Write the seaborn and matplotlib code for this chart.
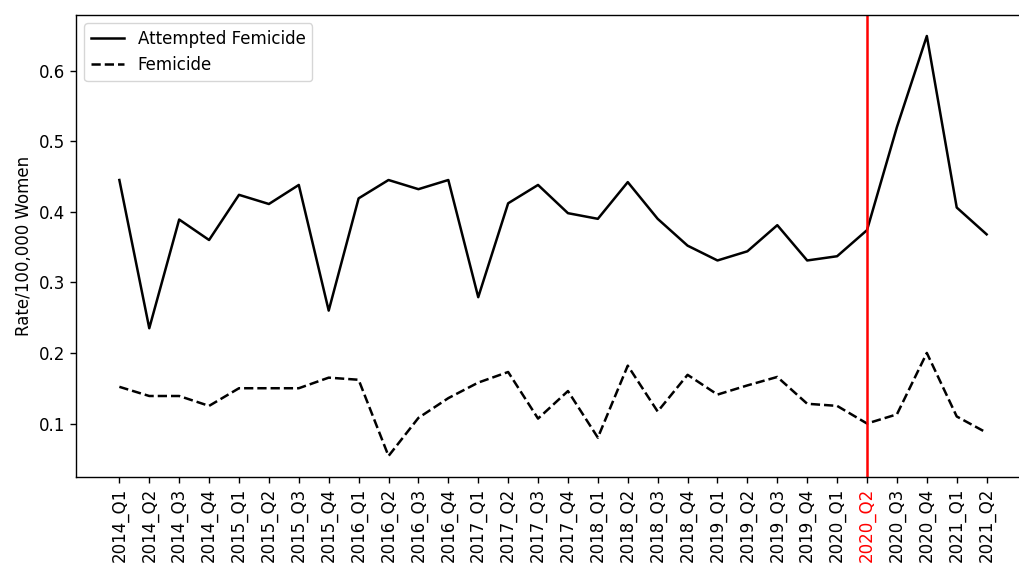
import pandas as pd
import seaborn as sns
import matplotlib.pyplot as plt

quarters = [f"{y}_Q{q}" for y in range(2014, 2022) for q in range(1, 5)][:30]

attempted = [0.445, 0.235, 0.389, 0.360, 0.424, 0.411, 0.438, 0.260,
             0.419, 0.445, 0.432, 0.445, 0.279, 0.412, 0.438, 0.398,
             0.390, 0.442, 0.390, 0.352, 0.331, 0.344, 0.381, 0.331,
             0.337, 0.374, 0.520, 0.649, 0.406, 0.368]

femicide = [0.152, 0.139, 0.139, 0.125, 0.150, 0.150, 0.150, 0.165,
            0.162, 0.054, 0.108, 0.136, 0.158, 0.173, 0.107, 0.146,
            0.080, 0.182, 0.117, 0.169, 0.141, 0.154, 0.166, 0.128,
            0.125, 0.100, 0.113, 0.200, 0.110, 0.087]

marker_quarter = "2020_Q2"

df = pd.DataFrame({
    "Quarter": quarters * 2,
    "Rate": attempted + femicide,
    "Type": ["Attempted Femicide"] * len(quarters) + ["Femicide"] * len(quarters),
})

# the reference looks like a default chart rendered ~1.2x larger
plt.rcParams["font.size"] = 12
plt.rcParams["xtick.major.size"] = 4.2
plt.rcParams["ytick.major.size"] = 4.2
plt.rcParams["xtick.major.width"] = 1.0
plt.rcParams["ytick.major.width"] = 1.0
plt.rcParams["axes.linewidth"] = 1.0

fig = plt.figure(figsize=(10.19, 5.69), dpi=100)
# axes run slightly past the right edge, as in the (cropped) reference
ax = fig.add_axes([76 / 1019, 92 / 569, 954 / 1019, 462 / 569])

sns.lineplot(data=df, x="Quarter", y="Rate", style="Type", color="black",
             dashes={"Attempted Femicide": "", "Femicide": (3.7, 1.6)},
             linewidth=1.8, ax=ax)

idx = quarters.index(marker_quarter)
ax.axvline(idx, color="red", linewidth=1.8)

ax.set_xlim(-0.05 * 29, 29 + 0.05 * 29)

ax.set_xlabel("")
ax.set_ylabel("Rate/100,000 Women")
ax.tick_params(axis="x", rotation=90)
for lab in ax.get_xticklabels():
    if lab.get_text() == marker_quarter:
        lab.set_color("red")

ax.legend(loc="upper left", title=None)

plt.savefig("out.png", dpi=100)
